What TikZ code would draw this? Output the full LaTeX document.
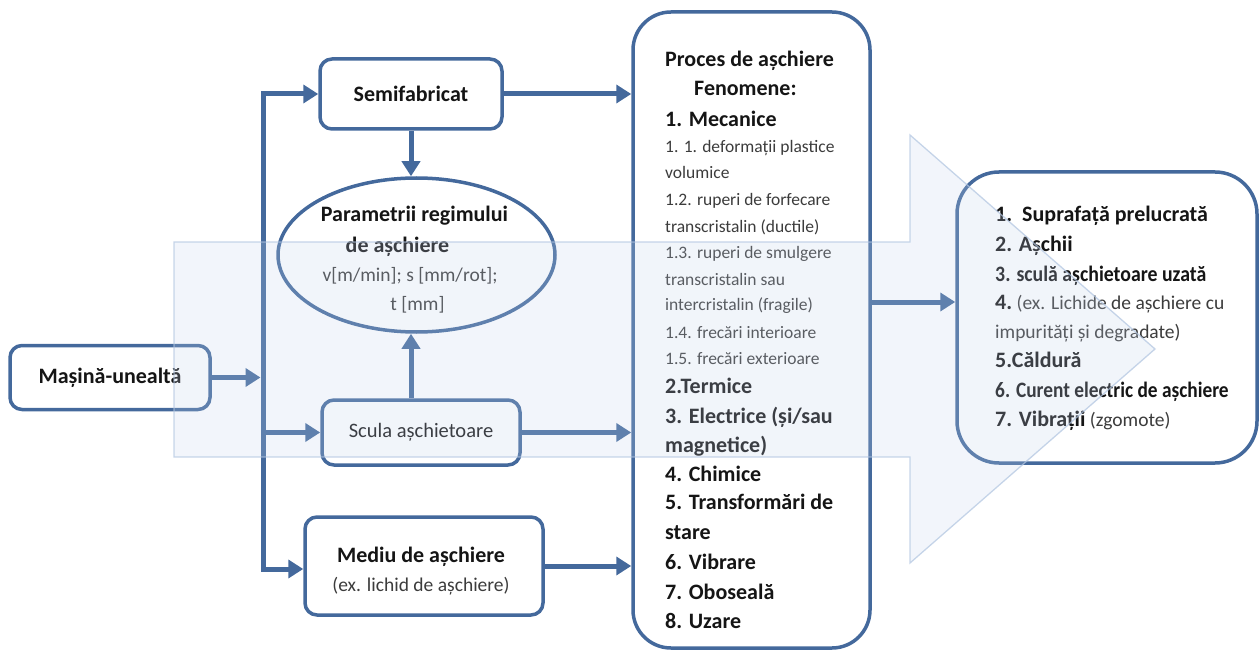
\documentclass[tikz,border=0pt]{standalone}
\usepackage{fontspec}
\usepackage{graphicx}
\setmainfont{Carlito}
\usetikzlibrary{arrows.meta,shapes.geometric}

\definecolor{edgeblue}{HTML}{44699C}
\definecolor{inkblack}{HTML}{151515}
\definecolor{inkgrey}{HTML}{3C3C3C}
\definecolor{flowfill}{HTML}{C3D3EC}
\definecolor{flowline}{HTML}{B0C4E0}

% text styles used in the boxes
\newcommand{\boldlbl}{\fontsize{22}{26}\selectfont\bfseries\color{inkblack}}
\newcommand{\plainlbl}{\fontsize{20.5}{24}\selectfont\color{inkblack}}
\newcommand{\lightlbl}{\fontsize{19.5}{24}\selectfont\color{inkgrey}}
\newcommand{\smalllbl}{\fontsize{17.5}{21}\selectfont\color{inkgrey}}

\begin{document}
\begin{tikzpicture}[x=1pt,y=-1pt,
  box/.style={draw=edgeblue, line width=3.5pt, rounded corners=12pt, fill=white, inner sep=0pt},
  conn/.style={draw=edgeblue, line width=5pt, -{Triangle[length=15pt,width=18pt]}},
  txt/.style={inner sep=0pt, anchor=base west},
  ctxt/.style={inner sep=0pt, anchor=base},
]
\useasboundingbox (0,0) rectangle (1260,652);

% ---------- input blocks ----------
\node[box, minimum width=200pt, minimum height=64pt] (mas) at (110,377.5) {\boldlbl Mașină-unealtă};
\node[box, minimum width=182pt, minimum height=70pt] (semi) at (411,94) {\boldlbl Semifabricat};
\node[draw=edgeblue, line width=3.5pt, ellipse, fill=white, inner sep=0pt,
      minimum width=277pt, minimum height=154pt] (elli) at (416.5,255) {};
\node[box, minimum width=198pt, minimum height=65pt] (scula) at (421,432.5) {\plainlbl Scula așchietoare};
\node[box, minimum width=238pt, minimum height=98pt] (mediu) at (424,566) {};

% ---------- process and result blocks ----------
\node[box, rounded corners=38pt, minimum width=237pt, minimum height=636pt] (proc) at (751.5,330) {};
\node[box, rounded corners=42pt, minimum width=300pt, minimum height=291pt] (out) at (1107,317.5) {};

% ellipse text
\node[ctxt] (el1) at (414.5,222) {\boldlbl Parametrii regimului};
\node[ctxt] (el2) at (397.5,252) {\boldlbl de așchiere};
\node[ctxt] (el3) at (410,281) {\lightlbl v[m/min]; s [mm/rot];};
\node[ctxt] (el4) at (417.5,310) {\lightlbl t [mm]};

% cutting medium text
\node[ctxt] (md1) at (421,562) {\boldlbl Mediu de așchiere};
\node[ctxt] (md2) at (421,591) {\lightlbl (ex. lichid de așchiere)};

% cutting process: phenomena
\node[txt] (p1)  at (665,66.5)  {\boldlbl Proces de așchiere};
\node[txt] (p2)  at (694,95.5)  {\boldlbl Fenomene:};
\node[txt] (p3)  at (665,126.5) {\boldlbl 1. Mecanice};
\node[txt] (p4)  at (665,152.5) {\smalllbl 1. 1. deformații plastice};
\node[txt] (p5)  at (665,178.5) {\smalllbl volumice};
\node[txt] (p6)  at (665,205.5) {\smalllbl 1.2. ruperi de forfecare};
\node[txt] (p7)  at (665,232.5) {\smalllbl transcristalin (ductile)};
\node[txt] (p8)  at (665,258.5) {\smalllbl 1.3. ruperi de smulgere};
\node[txt] (p9)  at (665,285.5) {\smalllbl transcristalin sau};
\node[txt] (p10) at (665,310.5) {\smalllbl intercristalin (fragile)};
\node[txt] (p11) at (665,338.5) {\smalllbl 1.4. frecări interioare};
\node[txt] (p12) at (665,364.5) {\smalllbl 1.5. frecări exterioare};
\node[txt] (p13) at (665,393.5) {\boldlbl 2.Termice};
\node[txt] (p14) at (665,423.5) {\boldlbl 3. Electrice (și/sau};
\node[txt] (p15) at (665,452.5) {\boldlbl magnetice)};
\node[txt] (p16) at (665,481.5) {\boldlbl 4. Chimice};
\node[txt] (p17) at (665,509.5) {\boldlbl 5. Transformări de};
\node[txt] (p18) at (665,539.5) {\boldlbl stare};
\node[txt] (p19) at (665,569.5) {\boldlbl 6. Vibrare};
\node[txt] (p20) at (665,599.5) {\boldlbl 7. Oboseală};
\node[txt] (p21) at (665,628.5) {\boldlbl 8. Uzare};

% results
\node[txt] (r1) at (995,221.5) {\boldlbl 1.\hspace{10pt}Suprafață prelucrată};
\node[txt] (r2) at (995,251.5) {\boldlbl 2. Așchii};
\node[txt] (r3) at (995,281.5) {\scalebox{0.9}[1]{\boldlbl 3. sculă așchietoare uzată}};
\node[txt] (r4) at (995,309)   {{\boldlbl 4.}{\lightlbl\ (ex. Lichide de așchiere cu}};
\node[txt] (r5) at (995,338)   {\lightlbl impurități și degradate)};
\node[txt] (r6) at (995,367.5) {\boldlbl 5.Căldură};
\node[txt] (r7) at (995,397.5) {\scalebox{0.88}[1]{\boldlbl 6. Curent electric de așchiere}};
\node[txt] (r8) at (995,426.5) {{\boldlbl 7. Vibrații}{\lightlbl\ (zgomote)}};

% ---------- connectors ----------
\coordinate (ttop) at (263,94);
\coordinate (tbot) at (263,569);
\coordinate (flow) at (0,302);

\draw[conn] (tbot) -- (ttop) -- (semi.west);
\draw[conn] (ttop) -- (tbot) -- (tbot -| mediu.west);
\draw[conn, shorten >=2.5pt] (mas.east) -- (mas.east -| ttop);
\draw[conn] (scula.west -| ttop) -- (scula.west);
\draw[conn] (semi.south) -- (semi.south |- elli.north);
\draw[conn] (scula.north -| semi.south) -- (elli.south -| semi.south);
\draw[conn] (semi.east) -- (semi.east -| proc.west);
\draw[conn] (scula.east) -- (scula.east -| proc.west);
\draw[conn] (mediu.east) -- (mediu.east -| proc.west);
\draw[conn] (proc.east |- flow) -- (out.west |- flow);

% ---------- translucent flow arrow laid over everything ----------
\path[fill=flowfill, fill opacity=0.22, draw=flowline, draw opacity=0.7, line width=1.3pt]
  (174,242) -- (910,242) -- (910,135) -- (1155,349) -- (910,563) -- (910,457) -- (174,457) -- cycle;
\end{tikzpicture}
\end{document}
